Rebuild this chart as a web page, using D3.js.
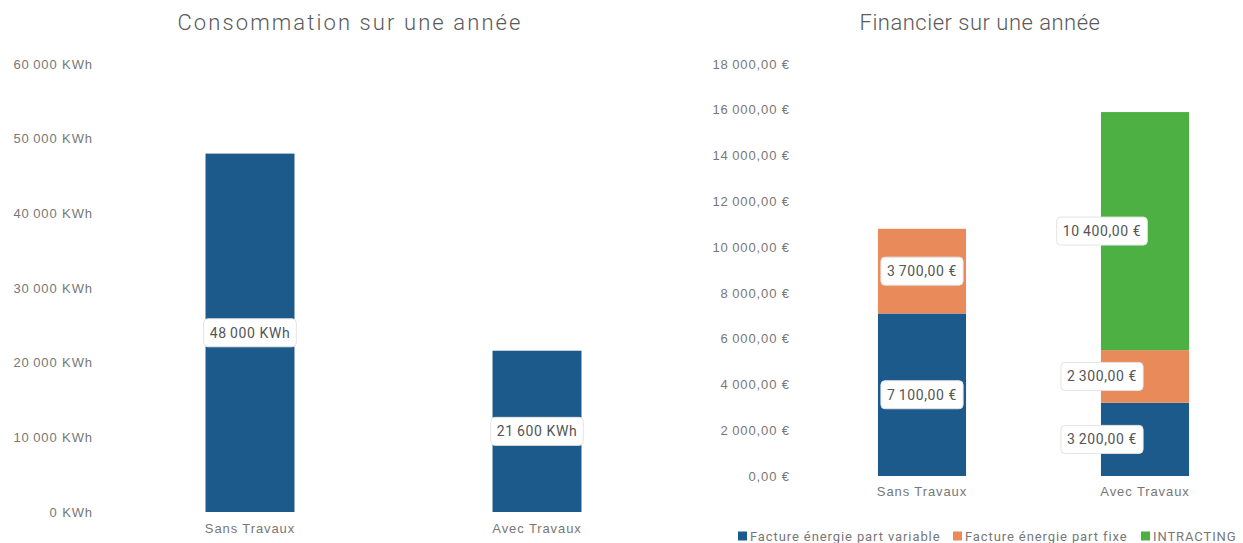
<!DOCTYPE html>
<html>
<head>
<meta charset="utf-8">
<script src="https://cdn.jsdelivr.net/npm/d3@7"></script>
<style>
  body { margin: 0; background: #fff; }
  svg { display: block; font-family: Roboto, "Noto Sans", sans-serif; }
</style>
</head>
<body>
<svg id="chart" width="1243" height="543"></svg>
<script>
// values
const categories = ['Sans Travaux', 'Avec Travaux'];
const consumption = [48000, 21600];
const consTicks = [0, 10000, 20000, 30000, 40000, 50000, 60000];

const seriesNames = ['Facture énergie part variable', 'Facture énergie part fixe', 'INTRACTING'];
const partVariable = [7100, 3200];
const partFixe = [3700, 2300];
const intracting = [0, 10400];
const moneyTicks = [0, 2000, 4000, 6000, 8000, 10000, 12000, 14000, 16000, 18000];

const colors = ['#1c5a8b', '#e98a5b', '#4cb043'];

const svg = d3.select('#chart');
const nf = v => d3.format(',')(v).replace(/,/g, '\u2009');
const euro = v => d3.format(',.2f')(v).replace(/,/g, '\u2009').replace('.', ',') + ' €';

function styleAxisText(sel) {
    sel.attr('font-size', 13)
        .attr('letter-spacing', 0.9)
        .attr('fill', '#777')
        .attr('font-family', null);
}

function drawLabel(g, x, y, text) {
    const grp = g.append('g').attr('transform', `translate(${x},${y})`);
    const t = grp.append('text')
        .attr('text-anchor', 'middle')
        .attr('dy', '0.35em')
        .attr('font-size', 14)
        .attr('letter-spacing', 0.6)
        .attr('fill', '#555')
        .text(text);
    const w = t.node().getComputedTextLength() + 12;
    grp.insert('rect', 'text')
        .attr('x', -w / 2).attr('y', -14)
        .attr('width', w).attr('height', 28)
        .attr('rx', 4)
        .attr('fill', '#fff')
        .attr('stroke', '#e4e4e4')
        .attr('stroke-width', 1);
}

function drawTitle(x, text, spacing) {
    svg.append('text')
        .attr('x', x).attr('y', 30)
        .attr('text-anchor', 'middle')
        .attr('font-size', 22).attr('font-weight', 300)
        .attr('letter-spacing', spacing)
        .attr('fill', '#5a5a5a')
        .text(text);
}

// ---------- left chart: consumption ----------
const xL = d3.scaleBand().domain(categories).range([106.5, 680.5]).paddingInner(0.69).paddingOuter(0.345);
const yL = d3.scaleLinear().domain([0, 60000]).range([512, 64]);

drawTitle(350, 'Consommation sur une année', 2.1);

const axL = svg.append('g')
    .attr('transform', 'translate(93,0)')
    .call(d3.axisLeft(yL).tickValues(consTicks).tickSize(0).tickPadding(0).tickFormat(d => nf(d) + ' KWh'));
axL.select('.domain').remove();
styleAxisText(axL.selectAll('text'));

svg.append('g').selectAll('rect')
    .data(categories)
    .join('rect')
    .attr('x', d => xL(d))
    .attr('y', (d, i) => yL(consumption[i]))
    .attr('width', xL.bandwidth())
    .attr('height', (d, i) => yL(0) - yL(consumption[i]))
    .attr('fill', colors[0]);

const catL = svg.append('g')
    .attr('transform', 'translate(0,521)')
    .call(d3.axisBottom(xL).tickSize(0).tickPadding(0));
catL.select('.domain').remove();
styleAxisText(catL.selectAll('text'));
catL.selectAll('text').attr('dy', '0.9em');

const lblL = svg.append('g');
categories.forEach((c, i) => {
    drawLabel(lblL, xL(c) + xL.bandwidth() / 2, (yL(0) + yL(consumption[i])) / 2, nf(consumption[i]) + ' KWh');
});

// ---------- right chart: finance ----------
const xR = d3.scaleBand().domain(categories).range([810.5, 1256.5]).paddingInner(0.605).paddingOuter(0.3025);
const yR = d3.scaleLinear().domain([0, 18000]).range([476, 64]);

drawTitle(980, 'Financier sur une année', 0.5);

const axR = svg.append('g')
    .attr('transform', 'translate(790,0)')
    .call(d3.axisLeft(yR).tickValues(moneyTicks).tickSize(0).tickPadding(0).tickFormat(euro));
axR.select('.domain').remove();
styleAxisText(axR.selectAll('text'));

const table = categories.map((c, i) => ({
    cat: c,
    [seriesNames[0]]: partVariable[i],
    [seriesNames[1]]: partFixe[i],
    [seriesNames[2]]: intracting[i]
}));
const stacked = d3.stack().keys(seriesNames)(table);

svg.append('g').selectAll('g')
    .data(stacked)
    .join('g')
    .attr('fill', (d, i) => colors[i])
    .selectAll('rect')
    .data(d => d)
    .join('rect')
    .attr('x', d => xR(d.data.cat))
    .attr('y', d => yR(d[1]))
    .attr('width', xR.bandwidth())
    .attr('height', d => yR(d[0]) - yR(d[1]));

const catR = svg.append('g')
    .attr('transform', 'translate(0,484)')
    .call(d3.axisBottom(xR).tickSize(0).tickPadding(0));
catR.select('.domain').remove();
styleAxisText(catR.selectAll('text'));
catR.selectAll('text').attr('dy', '0.9em');

// label shift for the second bar (labels sit on its left edge)
const labelShift = [0, -43];
const lblR = svg.append('g');
stacked.forEach(layer => {
    layer.forEach((d, i) => {
        const v = d[1] - d[0];
        if (v <= 0) return;
        drawLabel(lblR, xR(d.data.cat) + xR.bandwidth() / 2 + labelShift[i], (yR(d[0]) + yR(d[1])) / 2, euro(v));
    });
});

// legend
const legend = svg.append('g').attr('transform', 'translate(738,536)');
const legendX = [0, 215, 403];
seriesNames.forEach((s, i) => {
    const g = legend.append('g').attr('transform', `translate(${legendX[i]},0)`);
    g.append('rect').attr('x', 0).attr('y', -4.5).attr('width', 9).attr('height', 9).attr('fill', colors[i]);
    g.append('text').attr('x', 12).attr('dy', '0.35em')
        .attr('font-size', 13).attr('letter-spacing', 0.9)
        .attr('fill', '#777').text(s);
});
</script>
</body>
</html>
